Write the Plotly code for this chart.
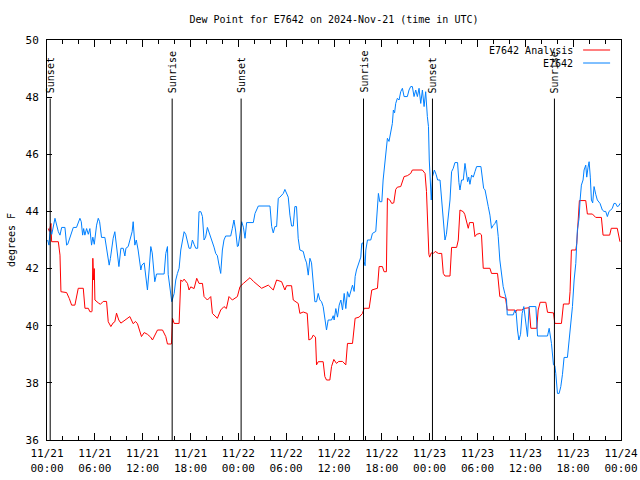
import plotly.graph_objects as go
import pandas as pd

BASE = pd.Timestamp("2024-11-21 00:00")

# ---- data (hours since 2024-11-21 00:00 UTC, dew point in deg F) ----
analysis_hours = [0.17, 0.3, 0.5, 0.58, 1.42, 1.63, 1.75, 2.46, 2.8, 3.09, 3.5, 3.7, 3.92, 4.55, 4.76, 5.18, 5.38, 5.59,
                  5.65, 5.75, 5.85, 5.93, 6.01, 6.43, 6.7, 7.05, 7.47, 7.68, 8.01, 8.3, 8.51, 8.72, 9.0, 9.27, 9.98,
                  10.39, 10.81, 11.1, 11.35, 11.85, 12.19, 12.6, 13.0, 13.23, 13.86, 14.49, 14.9, 15.11, 15.61, 15.74,
                  15.95, 16.57, 16.78, 16.99, 17.2, 17.62, 17.82, 18.03, 18.45, 18.78, 19.07, 19.5, 19.7, 20.12, 20.54,
                  20.75, 21.37, 21.79, 22.2, 22.5, 22.83, 23.25, 23.88, 24.21, 24.63, 25.46, 25.9, 26.92, 27.76, 28.38,
                  28.8, 29.43, 29.84, 30.05, 30.68, 30.89, 31.51, 31.72, 32.14, 32.64, 32.85, 33.18, 33.39, 33.68,
                  33.81, 34.02, 34.64, 34.85, 35.06, 35.48, 35.69, 35.98, 36.31, 36.6, 37.07, 37.48, 37.69, 38.32,
                  38.65, 39.15, 39.57, 39.78, 40.41, 40.74, 41.45, 41.66, 42.07, 42.28, 42.57, 42.7, 43.0, 43.24, 43.5,
                  43.74, 43.95, 44.37, 44.79, 45.2, 45.62, 45.83, 47.08, 47.42, 47.6, 47.75, 47.9, 48.0, 48.2, 48.46,
                  48.7, 49.09, 49.51, 49.71, 49.92, 50.55, 50.67, 50.75, 51.38, 51.59, 51.8, 52.22, 52.4, 52.63, 52.84,
                  53.0, 53.47, 53.68, 53.9, 54.3, 54.5, 54.72, 55.56, 55.76, 56.51, 56.6, 56.8, 57.52, 57.73, 58.69,
                  58.77, 58.9, 59.52, 59.94, 60.48, 60.69, 61.44, 61.61, 61.86, 62.57, 62.78, 63.53, 63.7, 64.53,
                  64.78, 65.49, 65.61, 65.78, 66.33, 66.45, 66.62, 66.78, 67.58, 67.78, 68.41, 68.83, 69.54, 69.75,
                  70.58, 70.78, 71.53, 71.74, 71.87]
analysis_values = [43.4, 43.3, 43.58, 42.94, 42.94, 42.47, 41.19, 41.16, 40.95, 40.72, 40.72, 41.0, 41.31, 41.31, 40.61,
                   40.61, 40.49, 40.49, 40.5, 42.36, 41.6, 42.0, 40.9, 40.8, 40.75, 40.85, 40.85, 40.14, 39.97, 40.1,
                   40.14, 40.44, 40.2, 40.09, 40.24, 40.32, 40.07, 40.15, 40.07, 39.62, 39.76, 39.7, 39.6, 39.5, 39.85,
                   39.85, 39.62, 39.36, 39.36, 40.26, 40.08, 40.08, 41.6, 41.55, 41.63, 41.48, 41.25, 41.36, 41.3,
                   41.66, 41.48, 41.48, 41.02, 40.9, 41.02, 40.43, 40.26, 40.55, 40.67, 40.6, 41.02, 40.9, 41.02,
                   41.37, 41.48, 41.68, 41.55, 41.31, 41.42, 41.25, 41.6, 41.54, 41.25, 41.4, 41.4, 40.9, 40.78, 40.43,
                   40.48, 40.43, 39.5, 39.55, 39.67, 39.6, 38.63, 38.74, 38.74, 38.22, 38.1, 38.1, 38.57, 38.82,
                   38.68, 38.75, 38.75, 38.63, 39.38, 39.38, 40.26, 40.3, 40.43, 40.61, 40.61, 41.25, 41.31, 42.07,
                   42.07, 41.89, 41.89, 44.46, 44.4, 44.28, 44.3, 44.77, 44.85, 44.87, 45.22, 45.25, 45.33, 45.45,
                   45.45, 45.33, 44.7, 43.5, 42.5, 42.4, 42.55, 42.53, 42.6, 42.53, 42.53, 41.83, 41.74, 41.74, 42.47,
                   42.74, 42.74, 43.0, 44.05, 43.99, 43.9, 43.64, 43.41, 43.61, 43.61, 43.12, 43.2, 43.23, 43.18, 42.01,
                   42.01, 41.83, 41.83, 41.6, 41.02, 40.96, 40.55, 40.55, 40.45, 40.55, 40.55, 40.61, 40.63, 39.91,
                   39.91, 40.55, 40.82, 40.82, 40.47, 40.45, 40.08, 40.08, 40.76, 40.76, 41.19, 42.65, 42.65, 42.88,
                   43.91, 44.38, 44.38, 43.91, 43.91, 43.79, 43.79, 43.17, 43.17, 43.41, 43.41, 43.12, 42.94]

station_hours = [0.08, 0.25, 0.4, 0.6, 1.0, 1.2, 1.42, 1.63, 1.84, 2.25, 2.46, 2.6, 2.88, 3.3, 3.7, 3.92, 4.13, 4.3, 4.47,
                 4.6, 4.75, 4.97, 5.18, 5.38, 5.59, 5.75, 5.93, 6.22, 6.43, 6.6, 6.84, 7.26, 7.47, 7.68, 7.8, 7.95,
                 8.3, 8.51, 8.72, 9.02, 9.27, 9.56, 9.77, 9.9, 10.18, 10.39, 10.68, 10.81, 11.02, 11.2, 11.43, 11.77,
                 11.9, 12.19, 12.4, 12.6, 12.81, 13.02, 13.2, 13.36, 13.52, 13.74, 14.69, 14.9, 15.11, 15.2, 15.32,
                 15.53, 15.65, 15.95, 16.15, 16.36, 16.57, 16.78, 16.99, 17.2, 17.4, 17.62, 17.82, 18.03, 18.24,
                 18.45, 18.66, 18.9, 19.07, 19.3, 19.5, 19.7, 19.9, 20.12, 20.3, 20.54, 20.75, 20.95, 21.16, 21.37,
                 21.58, 21.79, 22.0, 22.2, 22.41, 23.04, 23.25, 23.45, 23.65, 23.88, 24.0, 24.21, 24.42, 24.63, 24.84,
                 25.04, 25.88, 26.09, 26.51, 27.97, 28.18, 28.38, 28.59, 28.8, 29.01, 29.22, 29.64, 29.84, 30.05,
                 30.26, 30.47, 30.68, 30.89, 31.09, 31.3, 31.51, 31.72, 32.14, 32.35, 32.56, 32.77, 32.98, 33.18,
                 33.39, 33.6, 33.81, 34.02, 34.23, 34.44, 34.64, 34.85, 35.06, 35.27, 35.69, 35.9, 36.02, 36.23,
                 36.44, 36.65, 36.86, 37.07, 37.28, 37.48, 37.69, 37.9, 38.11, 38.32, 38.53, 38.65, 38.82, 39.15,
                 39.36, 39.48, 39.65, 39.78, 39.9, 39.99, 40.2, 40.61, 40.82, 41.24, 41.45, 41.57, 41.74, 42.0, 42.16,
                 42.41, 42.57, 42.7, 42.9, 43.11, 43.32, 43.45, 43.6, 43.74, 43.95, 44.16, 44.37, 44.58, 44.79, 45.2,
                 45.41, 45.62, 45.83, 46.04, 46.25, 46.46, 46.67, 46.88, 47.09, 47.3, 47.5, 47.71, 47.85, 47.95,
                 48.08, 48.2, 48.36, 48.59, 48.8, 49.0, 49.3, 49.51, 49.71, 49.92, 50.1, 50.34, 50.55, 50.75, 50.96,
                 51.17, 51.5, 51.67, 51.8, 52.0, 52.22, 52.43, 52.6, 52.76, 52.9, 53.05, 53.26, 53.47, 53.68, 53.89,
                 54.43, 54.6, 54.77, 54.95, 55.14, 55.35, 55.56, 55.76, 55.95, 56.18, 56.39, 56.6, 56.8, 57.01, 57.22,
                 57.43, 57.64, 57.73, 58.48, 58.69, 58.85, 59.02, 59.19, 59.4, 59.6, 59.81, 60.06, 60.27, 60.48,
                 61.32, 61.53, 62.78, 62.99, 63.1, 63.28, 63.53, 63.7, 63.82, 64.03, 64.24, 64.45, 64.66, 64.86,
                 65.28, 65.49, 65.7, 65.91, 66.12, 66.33, 66.53, 66.74, 66.87, 67.03, 67.24, 67.37, 67.58, 67.7,
                 67.87, 68.0, 68.15, 68.29, 68.45, 68.62, 68.83, 69.03, 69.37, 69.66, 69.87, 70.08, 70.29, 70.5,
                 70.7, 70.9, 71.12, 71.33, 71.53, 71.74, 71.87]
station_values = [43.0, 42.82, 43.4, 43.2, 43.76, 43.5, 43.29, 43.17, 43.44, 43.44, 42.82, 42.85, 43.06, 43.44, 43.44,
                  43.64, 43.76, 43.64, 43.17, 43.4, 43.17, 43.4, 43.2, 43.4, 42.82, 43.1, 42.85, 43.52, 43.76, 43.64,
                  43.09, 43.09, 42.65, 42.3, 42.12, 42.35, 43.06, 43.29, 42.77, 42.07, 42.71, 42.71, 42.44, 42.71,
                  42.77, 43.0, 43.29, 43.64, 42.82, 43.0, 42.65, 41.95, 42.12, 42.2, 41.77, 41.25, 41.95, 42.77, 42.55,
                  42.01, 41.54, 41.81, 41.81, 42.53, 42.77, 41.8, 41.54, 41.02, 40.84, 41.13, 41.6, 41.83, 42.01,
                  42.65, 43.0, 43.29, 43.2, 42.88, 42.71, 42.71, 43.0, 42.85, 42.71, 42.71, 43.99, 43.99, 43.82, 43.0,
                  43.1, 43.44, 43.3, 43.06, 42.88, 42.75, 42.53, 42.45, 42.12, 41.83, 42.65, 43.0, 43.14, 43.14, 43.41,
                  43.7, 43.35, 42.77, 42.79, 43.23, 43.64, 43.45, 43.06, 43.61, 43.61, 43.93, 44.19, 44.19, 43.47,
                  43.25, 43.47, 43.47, 44.46, 44.5, 44.63, 44.77, 44.63, 44.5, 43.87, 43.49, 43.49, 44.17, 44.17,
                  43.06, 42.65, 42.6, 42.36, 42.2, 41.77, 42.36, 42.2, 41.6, 40.84, 40.84, 41.13, 40.9, 40.84, 40.67,
                  40.32, 39.85, 40.2, 40.2, 40.35, 40.2, 40.6, 40.3, 40.72, 40.9, 40.55, 41.13, 40.6, 41.19, 41.0,
                  41.25, 41.42, 41.2, 41.72, 41.95, 42.24, 42.4, 42.88, 42.9, 42.24, 42.1, 42.65, 43.0, 43.0, 43.23,
                  43.3, 44.05, 44.63, 44.34, 44.34, 45.1, 45.8, 46.21, 46.56, 46.45, 46.79, 47.08, 47.55, 47.45, 47.78,
                  47.96, 47.9, 48.19, 48.31, 48.02, 48.02, 48.25, 48.37, 48.37, 48.02, 48.25, 48.02, 48.31, 47.78,
                  48.25, 47.67, 48.19, 47.32, 46.97, 45.8, 44.87, 44.4, 45.22, 45.45, 45.3, 45.1, 45.1, 44.28, 43.58,
                  43.0, 43.2, 43.82, 44.4, 45.39, 45.51, 45.71, 45.71, 45.01, 44.75, 45.1, 45.1, 45.68, 45.3, 45.04,
                  45.2, 44.95, 45.27, 45.2, 45.39, 45.57, 45.57, 45.22, 44.81, 44.75, 44.4, 44.17, 43.87, 43.41, 43.5,
                  43.58, 43.7, 43.12, 42.3, 41.72, 41.37, 41.13, 40.9, 40.38, 40.38, 40.55, 40.45, 39.85, 39.5, 39.7,
                  40.43, 40.67, 39.97, 39.62, 40.67, 40.67, 39.64, 39.64, 39.91, 39.75, 39.38, 38.63, 38.6, 38.33,
                  37.63, 37.63, 37.87, 38.3, 38.89, 38.89, 39.5, 40.2, 40.67, 41.6, 42.18, 43.35, 43.76, 44.4, 44.92,
                  45.1, 45.45, 45.62, 45.2, 45.55, 45.74, 45.2, 44.4, 44.3, 44.87, 44.6, 44.4, 44.28, 44.05, 44.0,
                  44.0, 43.82, 44.0, 44.05, 44.1, 44.28, 44.28, 44.17, 44.2, 44.28]

sun_event_hours = [0.4, 15.7, 24.35, 39.7, 48.35, 63.65]
sun_event_labels = ["Sunset", "Sunrise", "Sunset", "Sunrise", "Sunset", "Sunrise"]

x_tick_hours = [0, 6, 12, 18, 24, 30, 36, 42, 48, 54, 60, 66, 72]
x_tick_labels = ["11/21<br>00:00", "11/21<br>06:00", "11/21<br>12:00", "11/21<br>18:00",
                 "11/22<br>00:00", "11/22<br>06:00", "11/22<br>12:00", "11/22<br>18:00",
                 "11/23<br>00:00", "11/23<br>06:00", "11/23<br>12:00", "11/23<br>18:00",
                 "11/24<br>00:00"]
series_names = ["E7642 Analysis", "E7642"]
series_colors = ["#ff0000", "#0080ff"]


def to_time(hours):
    return [BASE + pd.Timedelta(hours=h) for h in hours]


FONT = "DejaVu Sans Mono"
fig = go.Figure()
fig.add_trace(go.Scatter(x=to_time(analysis_hours), y=analysis_values, mode="lines",
                         line=dict(color=series_colors[0], width=1), name=series_names[0], showlegend=False))
fig.add_trace(go.Scatter(x=to_time(station_hours), y=station_values, mode="lines",
                         line=dict(color=series_colors[1], width=1), name=series_names[1], showlegend=False))

Y_MIN, Y_MAX = 36, 50
LINE_TOP = 47.95
for h, lab in zip(sun_event_hours, sun_event_labels):
    t = BASE + pd.Timedelta(hours=h)
    fig.add_shape(type="line", xref="x", yref="y", x0=t, x1=t, y0=Y_MIN, y1=LINE_TOP,
                  line=dict(color="black", width=1))
    fig.add_annotation(x=t, y=0.8625, xref="x", yref="paper", text=lab, textangle=-90,
                       showarrow=False, xanchor="center", yanchor="bottom", xshift=1,
                       font=dict(family=FONT, size=10, color="black"))

# gnuplot-style key (text right, sample line after)
for i, (name, col) in enumerate(zip(series_names, series_colors)):
    yp = 0.975 - i * 0.0325
    fig.add_annotation(x=0.92, y=yp, xref="paper", yref="paper", text=name, showarrow=False,
                       xanchor="right", yanchor="middle", font=dict(family=FONT, size=10, color="black"))
    fig.add_shape(type="line", xref="paper", yref="paper", x0=0.934, x1=0.981, y0=yp, y1=yp,
                  line=dict(color=col, width=1))

fig.add_annotation(x=-0.0626, y=0.5, xref="paper", yref="paper", text="degrees F", textangle=-90,
                   showarrow=False, xanchor="center", yanchor="middle",
                   font=dict(family=FONT, size=10, color="black"))

fig.update_layout(
    width=640, height=480,
    margin=dict(l=47, r=19, t=40, b=40),
    paper_bgcolor="white", plot_bgcolor="white",
    font=dict(family=FONT, size=10, color="black"),
    title=dict(text="Dew Point for E7642 on 2024-Nov-21 (time in UTC)", x=0.5, xanchor="center",
               xref="paper", y=1 - 19 / 480, yanchor="middle",
               font=dict(family=FONT, size=10, color="black")),
    showlegend=False,
)
fig.update_xaxes(
    range=[BASE, BASE + pd.Timedelta(hours=72)], automargin=False,
    tickmode="array", tickvals=to_time(x_tick_hours), ticktext=x_tick_labels,
    ticks="inside", ticklen=7, tickcolor="black", showline=True, linecolor="black", linewidth=1,
    mirror="ticks", showgrid=False, zeroline=False, ticklabelstandoff=3,
    minor=dict(tickmode="linear", tick0=BASE, dtick=2 * 3600 * 1000, ticks="inside", ticklen=4,
               tickcolor="black", showgrid=False),
    tickfont=dict(family=FONT, size=11, color="black"),
)
fig.update_yaxes(
    range=[Y_MIN, Y_MAX], automargin=False, tickmode="linear", tick0=36, dtick=2,
    ticks="inside", ticklen=5, tickcolor="black", showline=True, linecolor="black", linewidth=1,
    mirror="ticks", showgrid=False, zeroline=False, ticklabelstandoff=5,
    tickfont=dict(family=FONT, size=11, color="black"),
)

fig.write_html("out.html", config={"displayModeBar": False},
               post_script="document.body.style.margin='0px';")
